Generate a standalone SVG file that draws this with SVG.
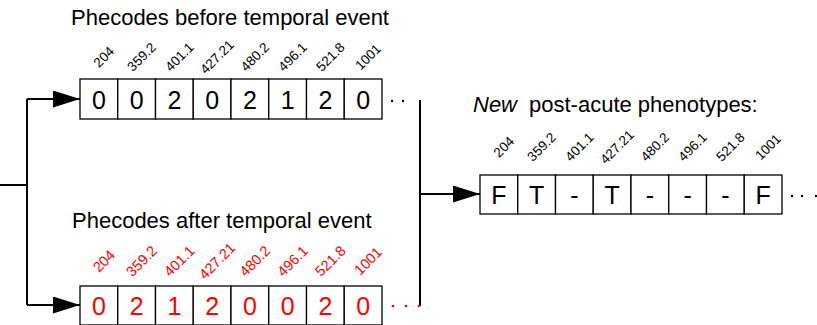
<svg xmlns="http://www.w3.org/2000/svg" width="817" height="325" viewBox="0 0 817 325">
<defs>
<style>
.title{font-family:"Liberation Sans",Arial,sans-serif;font-size:22px;fill:#000}
.cell{fill:#fff;stroke:#000;stroke-width:1.3}
.val{font-family:"Liberation Sans",Arial,sans-serif;font-size:25px;text-anchor:middle;fill:#000}
.red{fill:#f00}
.lbl{font-family:"Liberation Sans",Arial,sans-serif;font-size:13.5px;text-anchor:middle;fill:#000}
.lblr{font-family:"Liberation Sans",Arial,sans-serif;font-size:14.5px;text-anchor:middle;fill:#f00}
.conn{fill:none;stroke:#000;stroke-width:2}
</style>
<marker id="arr" markerUnits="userSpaceOnUse" markerWidth="28" markerHeight="18" refX="27" refY="8.5" orient="auto">
<path d="M0,0 L27,8.5 L0,17 Z" fill="#000"/>
</marker>
</defs>

<g id="connectors">
<path class="conn" d="M0,185 H27"/>
<path class="conn" d="M27,99 V305"/>
<path class="conn" d="M27,99 H80" marker-end="url(#arr)"/>
<path class="conn" d="M27,305 H80" marker-end="url(#arr)"/>
<path class="conn" d="M420,100 V306"/>
<path class="conn" d="M420,194 H480" marker-end="url(#arr)"/>
</g>

<g id="before">
<text class="title" x="71" y="25">Phecodes before temporal event</text>
<rect class="cell" x="80" y="79" width="37.75" height="40"/>
<rect class="cell" x="117.75" y="79" width="37.75" height="40"/>
<rect class="cell" x="155.5" y="79" width="37.75" height="40"/>
<rect class="cell" x="193.25" y="79" width="37.75" height="40"/>
<rect class="cell" x="231" y="79" width="37.75" height="40"/>
<rect class="cell" x="268.75" y="79" width="37.75" height="40"/>
<rect class="cell" x="306.5" y="79" width="37.75" height="40"/>
<rect class="cell" x="344.25" y="79" width="37.75" height="40"/>
<text class="val" x="98.9" y="108.5">0</text>
<text class="val" x="136.6" y="108.5">0</text>
<text class="val" x="174.4" y="108.5">2</text>
<text class="val" x="212.1" y="108.5">0</text>
<text class="val" x="249.9" y="108.5">2</text>
<text class="val" x="287.6" y="108.5">1</text>
<text class="val" x="325.4" y="108.5">2</text>
<text class="val" x="363.1" y="108.5">0</text>
<text class="lbl" x="103.9" y="61.5" transform="rotate(-45 103.9 57)">204</text>
<text class="lbl" x="141.6" y="61.5" transform="rotate(-45 141.6 57)">359.2</text>
<text class="lbl" x="179.4" y="61.5" transform="rotate(-45 179.4 57)">401.1</text>
<text class="lbl" x="217.1" y="61.5" transform="rotate(-45 217.1 57)">427.21</text>
<text class="lbl" x="254.9" y="61.5" transform="rotate(-45 254.9 57)">480.2</text>
<text class="lbl" x="292.6" y="61.5" transform="rotate(-45 292.6 57)">496.1</text>
<text class="lbl" x="330.4" y="61.5" transform="rotate(-45 330.4 57)">521.8</text>
<text class="lbl" x="368.1" y="61.5" transform="rotate(-45 368.1 57)">1001</text>
<circle cx="392" cy="101" r="1.2" fill="#000"/>
<circle cx="403" cy="101" r="1.2" fill="#000"/>
</g>

<g id="after">
<text class="title" x="72" y="228">Phecodes after temporal event</text>
<rect class="cell" x="80" y="286" width="37.75" height="39"/>
<rect class="cell" x="117.75" y="286" width="37.75" height="39"/>
<rect class="cell" x="155.5" y="286" width="37.75" height="39"/>
<rect class="cell" x="193.25" y="286" width="37.75" height="39"/>
<rect class="cell" x="231" y="286" width="37.75" height="39"/>
<rect class="cell" x="268.75" y="286" width="37.75" height="39"/>
<rect class="cell" x="306.5" y="286" width="37.75" height="39"/>
<rect class="cell" x="344.25" y="286" width="37.75" height="39"/>
<text class="val red" x="98.9" y="315">0</text>
<text class="val red" x="136.6" y="315">2</text>
<text class="val red" x="174.4" y="315">1</text>
<text class="val red" x="212.1" y="315">2</text>
<text class="val red" x="249.9" y="315">0</text>
<text class="val red" x="287.6" y="315">0</text>
<text class="val red" x="325.4" y="315">2</text>
<text class="val red" x="363.1" y="315">0</text>
<text class="lblr" x="103.9" y="266" transform="rotate(-45 103.9 261)">204</text>
<text class="lblr" x="141.6" y="266" transform="rotate(-45 141.6 261)">359.2</text>
<text class="lblr" x="179.4" y="266" transform="rotate(-45 179.4 261)">401.1</text>
<text class="lblr" x="217.1" y="266" transform="rotate(-45 217.1 261)">427.21</text>
<text class="lblr" x="254.9" y="266" transform="rotate(-45 254.9 261)">480.2</text>
<text class="lblr" x="292.6" y="266" transform="rotate(-45 292.6 261)">496.1</text>
<text class="lblr" x="330.4" y="266" transform="rotate(-45 330.4 261)">521.8</text>
<text class="lblr" x="368.1" y="266" transform="rotate(-45 368.1 261)">1001</text>
<circle cx="393" cy="306" r="1.3" fill="#f00"/>
<circle cx="406" cy="306" r="1.3" fill="#f00"/>
<circle cx="419" cy="306" r="1.3" fill="#f00"/>
</g>

<g id="phenotypes">
<text class="title" x="473" y="112"><tspan font-style="italic">New</tspan><tspan dx="12">post-acute phenotypes:</tspan></text>
<rect class="cell" x="480" y="175" width="37.75" height="39"/>
<rect class="cell" x="517.75" y="175" width="37.75" height="39"/>
<rect class="cell" x="555.5" y="175" width="37.75" height="39"/>
<rect class="cell" x="593.25" y="175" width="37.75" height="39"/>
<rect class="cell" x="631" y="175" width="37.75" height="39"/>
<rect class="cell" x="668.75" y="175" width="37.75" height="39"/>
<rect class="cell" x="706.5" y="175" width="37.75" height="39"/>
<rect class="cell" x="744.25" y="175" width="37.75" height="39"/>
<text class="val" x="498.9" y="204">F</text>
<text class="val" x="536.6" y="204">T</text>
<text class="val" x="574.4" y="204">-</text>
<text class="val" x="612.1" y="204">T</text>
<text class="val" x="649.9" y="204">-</text>
<text class="val" x="687.6" y="204">-</text>
<text class="val" x="725.4" y="204">-</text>
<text class="val" x="763.1" y="204">F</text>
<text class="lbl" x="503.9" y="151.5" transform="rotate(-45 503.9 147)">204</text>
<text class="lbl" x="541.6" y="151.5" transform="rotate(-45 541.6 147)">359.2</text>
<text class="lbl" x="579.4" y="151.5" transform="rotate(-45 579.4 147)">401.1</text>
<text class="lbl" x="617.1" y="151.5" transform="rotate(-45 617.1 147)">427.21</text>
<text class="lbl" x="654.9" y="151.5" transform="rotate(-45 654.9 147)">480.2</text>
<text class="lbl" x="692.6" y="151.5" transform="rotate(-45 692.6 147)">496.1</text>
<text class="lbl" x="730.4" y="151.5" transform="rotate(-45 730.4 147)">521.8</text>
<text class="lbl" x="768.1" y="151.5" transform="rotate(-45 768.1 147)">1001</text>
<circle cx="792" cy="196" r="1.2" fill="#000"/>
<circle cx="802" cy="196" r="1.2" fill="#000"/>
<circle cx="816" cy="196" r="1.2" fill="#000"/>
</g>
</svg>
